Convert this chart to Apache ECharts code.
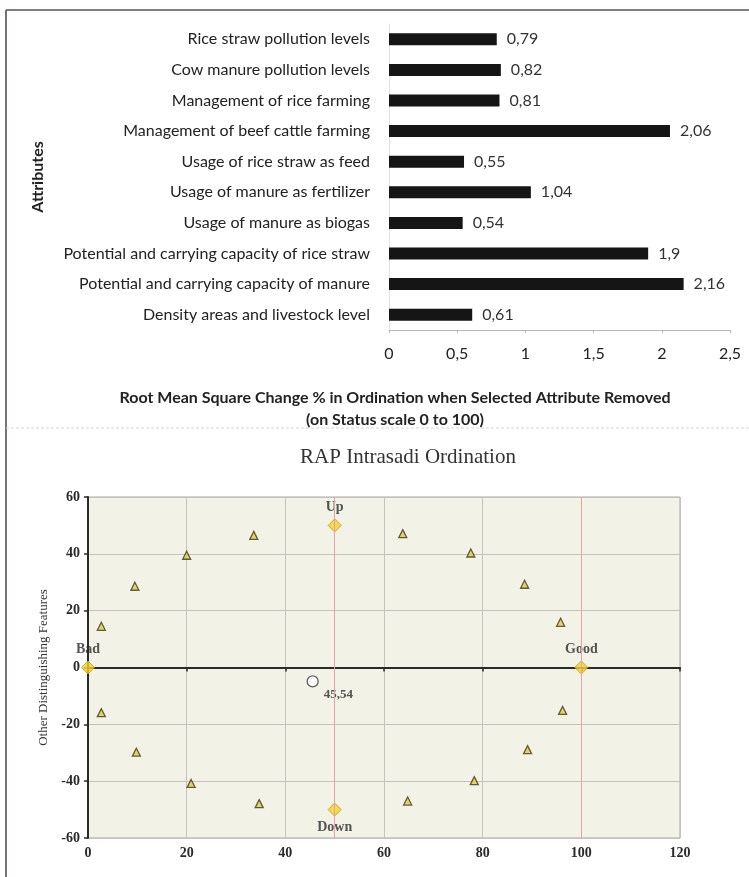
<!DOCTYPE html>
<html>
<head>
<meta charset="utf-8">
<script src="https://cdn.jsdelivr.net/npm/echarts@6/dist/echarts.min.js"></script>
<style>
  html, body { margin: 0; padding: 0; background: #ffffff; }
  #chart { width: 749px; height: 877px; }
</style>
</head>
<body>
<div id="chart"></div>
<script>
// Leverage analysis: RMS change when each attribute is removed
const attributes = [
  'Rice straw pollution levels',
  'Cow manure pollution levels',
  'Management of rice farming',
  'Management of beef cattle farming',
  'Usage of rice straw as feed',
  'Usage of manure as fertilizer',
  'Usage of manure as biogas',
  'Potential and carrying capacity of rice straw',
  'Potential and carrying capacity of manure',
  'Density areas and livestock level'
];
const rmsChange = [0.79, 0.82, 0.81, 2.06, 0.55, 1.04, 0.54, 1.9, 2.16, 0.61];

// Ordination: reference (Monte-Carlo style) triangles
const refX = [2.7, 9.5, 20.0, 33.6, 63.8, 77.6, 88.5, 95.8, 2.7, 9.8, 20.9, 34.7, 64.8, 78.3, 89.1, 96.2];
const refY = [14.5, 28.6, 39.5, 46.5, 47.1, 40.3, 29.3, 15.9, -15.9, -29.8, -40.8, -47.9, -47.0, -39.8, -28.9, -15.1];

// Anchor points
const anchorNames = ['Bad', 'Good', 'Up', 'Down'];
const anchorX = [0, 100, 50, 50];
const anchorY = [0, 0, 50, -50];

// Status point
const statusX = 45.54;
const statusY = -4.9;

const fmtComma = v => String(v).replace('.', ',');

const sans = 'Lato, "Open Sans", sans-serif';
const serif = '"Liberation Serif", "DejaVu Serif", serif';

const chart = echarts.init(document.getElementById('chart'), null, { renderer: 'canvas' });

const anchorLabelPos = { Bad: 'top', Good: 'top', Up: 'top', Down: 'bottom' };

chart.setOption({
  backgroundColor: '#ffffff',
  animation: false,
  grid: [
    { left: 389, right: 19, top: 24, height: 306 },
    { left: 88, right: 69, top: 497, height: 341, show: true,
      backgroundColor: '#f3f2e6', borderColor: '#a8a8a0', borderWidth: 1 }
  ],
  xAxis: [
    {
      gridIndex: 0, type: 'value', min: 0, max: 2.5, interval: 0.5,
      axisLine: { show: true, lineStyle: { color: '#b8b8b8', width: 1 } },
      axisTick: { show: true, length: 3, lineStyle: { color: '#b8b8b8' } },
      splitLine: { show: false },
      axisLabel: { margin: 16, color: '#222', fontFamily: sans, fontSize: 16, formatter: fmtComma }
    },
    {
      gridIndex: 1, type: 'value', min: 0, max: 120, interval: 20,
      axisLine: { show: true, onZero: true, lineStyle: { color: '#2a2a2a', width: 2 } },
      axisTick: { show: true, length: 4, lineStyle: { color: '#2a2a2a', width: 1.5 } },
      splitLine: { show: true, lineStyle: { color: '#c4c4bc', width: 1 } },
      axisLabel: { margin: 8, color: '#2a2a2a', fontFamily: serif, fontWeight: 'bold', fontSize: 14 }
    }
  ],
  yAxis: [
    {
      gridIndex: 0, type: 'category', data: attributes, inverse: true,
      axisLine: { show: true, lineStyle: { color: '#e2e2e2' } },
      axisTick: { show: false },
      axisLabel: { margin: 19, color: '#222', fontFamily: sans, fontSize: 16 }
    },
    {
      gridIndex: 1, type: 'value', min: -60, max: 60, interval: 20,
      name: 'Other Distinguishing Features', nameLocation: 'middle', nameGap: 38,
      nameTextStyle: { fontFamily: serif, fontSize: 13, color: '#333' },
      axisLine: { show: true, onZero: true, lineStyle: { color: '#2a2a2a', width: 2 } },
      axisTick: { show: true, length: 4, lineStyle: { color: '#2a2a2a', width: 1.5 } },
      splitLine: { show: true, lineStyle: { color: '#c8c0bc', width: 1 } },
      axisLabel: { margin: 8, color: '#2a2a2a', fontFamily: serif, fontWeight: 'bold', fontSize: 14 }
    }
  ],
  series: [
    {
      type: 'bar', xAxisIndex: 0, yAxisIndex: 0, data: rmsChange,
      barWidth: 12,
      itemStyle: { color: '#151515' },
      label: {
        show: true, position: 'right', distance: 10,
        color: '#333', fontFamily: sans, fontSize: 16,
        formatter: p => fmtComma(p.value)
      }
    },
    {
      type: 'scatter', xAxisIndex: 1, yAxisIndex: 1,
      data: refX.map((x, i) => [x, refY[i]]),
      symbol: 'triangle', symbolSize: 8,
      itemStyle: { color: '#e2cc3a', borderColor: '#3b3a22', borderWidth: 1.3 },
      markLine: {
        silent: true, symbol: 'none', label: { show: false },
        lineStyle: { color: '#e4a4a4', width: 1, type: 'solid' },
        data: [{ xAxis: 50 }, { xAxis: 100 }]
      }
    },
    {
      type: 'scatter', xAxisIndex: 1, yAxisIndex: 1,
      data: anchorNames.map((n, i) => ({
        name: n, value: [anchorX[i], anchorY[i]],
        label: { position: anchorLabelPos[n] }
      })),
      symbol: 'diamond', symbolSize: 13,
      itemStyle: { color: '#f6d22a', borderColor: '#b99a1a', borderWidth: 1 },
      label: {
        show: true, formatter: p => p.name, distance: 4,
        color: '#2a2a2a', fontFamily: serif, fontWeight: 'bold', fontSize: 14
      }
    },
    {
      type: 'scatter', xAxisIndex: 1, yAxisIndex: 1,
      data: [[statusX, statusY]],
      symbol: 'circle', symbolSize: 11,
      itemStyle: { color: '#ffffff', borderColor: '#3a3a3a', borderWidth: 1.3 },
      label: {
        show: true, position: 'right', offset: [0, 13],
        formatter: p => fmtComma(p.value[0]),
        color: '#2a2a2a', fontFamily: serif, fontWeight: 'bold', fontSize: 13
      }
    }
  ],
  graphic: [
    // page frame and panel separator
    { type: 'line', shape: { x1: 6, y1: 10, x2: 6, y2: 877 }, style: { stroke: '#4a4444', lineWidth: 1.5 } },
    { type: 'line', shape: { x1: 6, y1: 10, x2: 749, y2: 10 }, style: { stroke: '#5a5050', lineWidth: 1.5 } },
    { type: 'line', shape: { x1: 6, y1: 428, x2: 749, y2: 428 }, style: { stroke: '#d4d4d4', lineWidth: 1, lineDash: [3, 2] } },
    // bar panel axis titles
    { type: 'text', x: 38, y: 177, rotation: Math.PI / 2,
      style: { text: 'Attributes', textAlign: 'center', textVerticalAlign: 'middle',
               font: 'bold 16px ' + sans, fill: '#222' } },
    { type: 'text', x: 395, y: 398,
      style: { text: 'Root Mean Square Change % in Ordination when Selected Attribute Removed',
               textAlign: 'center', textVerticalAlign: 'middle', font: 'bold 16px ' + sans, fill: '#222' } },
    { type: 'text', x: 395, y: 420,
      style: { text: '(on Status scale 0 to 100)',
               textAlign: 'center', textVerticalAlign: 'middle', font: 'bold 16px ' + sans, fill: '#222' } },
    // ordination title
    { type: 'text', x: 408, y: 457,
      style: { text: 'RAP Intrasadi Ordination', textAlign: 'center', textVerticalAlign: 'middle',
               font: '21px ' + serif, fill: '#333' } }
  ]
});
</script>
</body>
</html>
